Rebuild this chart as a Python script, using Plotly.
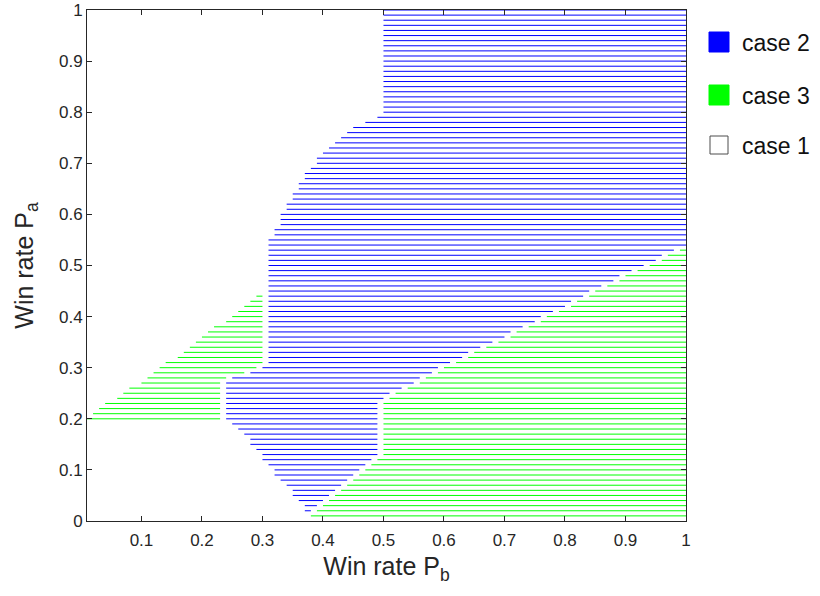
import plotly.graph_objects as go

# Row grid of the sweep: win rate P_a from 0.01 to 1.00
pa_rows = [round(0.01 * k, 2) for k in range(1, 101)]

# Case 2 (blue) span on each P_a row: first and last P_b in case 2
case2_from = [
    None, 0.37, 0.37, 0.36, 0.35, 0.35, 0.34, 0.33, 0.32, 0.32,   # 0.01-0.10
    0.31, 0.30, 0.30, 0.29, 0.28, 0.28, 0.27, 0.26, 0.25, 0.24,   # 0.11-0.20
    0.24, 0.24, 0.24, 0.24, 0.24, 0.24, 0.24, 0.25, 0.28, 0.30,   # 0.21-0.30
    0.31, 0.31, 0.31, 0.31, 0.31, 0.31, 0.31, 0.31, 0.31, 0.31,   # 0.31-0.40
    0.31, 0.31, 0.31, 0.31, 0.31, 0.31, 0.31, 0.31, 0.31, 0.31,   # 0.41-0.50
    0.31, 0.31, 0.31, 0.31, 0.31, 0.32, 0.32, 0.33, 0.33, 0.33,   # 0.51-0.60
    0.34, 0.34, 0.35, 0.35, 0.36, 0.36, 0.37, 0.37, 0.38, 0.39,   # 0.61-0.70
    0.39, 0.40, 0.41, 0.42, 0.43, 0.44, 0.45, 0.47, 0.49, 0.50,   # 0.71-0.80
    0.50, 0.50, 0.50, 0.50, 0.50, 0.50, 0.50, 0.50, 0.50, 0.50,   # 0.81-0.90
    0.50, 0.50, 0.50, 0.50, 0.50, 0.50, 0.50, 0.50, 0.50, 0.50,   # 0.91-1.00
]
case2_to = [
    None, 0.38, 0.39, 0.40, 0.41, 0.42, 0.43, 0.44, 0.45, 0.46,   # 0.01-0.10
    0.47, 0.48, 0.49, 0.49, 0.49, 0.49, 0.49, 0.49, 0.49, 0.49,   # 0.11-0.20
    0.49, 0.49, 0.49, 0.50, 0.51, 0.53, 0.55, 0.56, 0.58, 0.59,   # 0.21-0.30
    0.61, 0.63, 0.64, 0.66, 0.68, 0.70, 0.71, 0.73, 0.75, 0.76,   # 0.31-0.40
    0.78, 0.80, 0.81, 0.83, 0.84, 0.86, 0.88, 0.89, 0.91, 0.93,   # 0.41-0.50
    0.95, 0.96, 0.98, 1.00, 1.00, 1.00, 1.00, 1.00, 1.00, 1.00,   # 0.51-0.60
    1.00, 1.00, 1.00, 1.00, 1.00, 1.00, 1.00, 1.00, 1.00, 1.00,   # 0.61-0.70
    1.00, 1.00, 1.00, 1.00, 1.00, 1.00, 1.00, 1.00, 1.00, 1.00,   # 0.71-0.80
    1.00, 1.00, 1.00, 1.00, 1.00, 1.00, 1.00, 1.00, 1.00, 1.00,   # 0.81-0.90
    1.00, 1.00, 1.00, 1.00, 1.00, 1.00, 1.00, 1.00, 1.00, 1.00,   # 0.91-1.00
]

# Case 3 (green), lower-right region: rows P_a = 0.01 ... 0.53
case3_pa = pa_rows[:53]
case3_from = [
    0.38, 0.39, 0.40, 0.41, 0.42, 0.43, 0.44, 0.45, 0.46, 0.47,   # 0.01-0.10
    0.48, 0.49, 0.50, 0.50, 0.50, 0.50, 0.50, 0.50, 0.50, 0.50,   # 0.11-0.20
    0.50, 0.50, 0.50, 0.51, 0.52, 0.54, 0.56, 0.57, 0.59, 0.60,   # 0.21-0.30
    0.62, 0.64, 0.65, 0.67, 0.69, 0.71, 0.72, 0.74, 0.76, 0.77,   # 0.31-0.40
    0.79, 0.81, 0.82, 0.84, 0.85, 0.87, 0.89, 0.90, 0.92, 0.94,   # 0.41-0.50
    0.96, 0.97, 0.99,                                             # 0.51-0.53
]
case3_to = [1.00] * 53

# Case 3 (green), left wedge: rows P_a = 0.20 ... 0.44
case3_left_pa = pa_rows[19:44]
case3_left_from = [
    0.01, 0.02, 0.03, 0.04, 0.06, 0.07, 0.08, 0.10, 0.11, 0.12,   # 0.20-0.29
    0.13, 0.14, 0.16, 0.17, 0.18, 0.19, 0.20, 0.21, 0.22, 0.24,   # 0.30-0.39
    0.25, 0.26, 0.27, 0.28, 0.29,                                 # 0.40-0.44
]
case3_left_to = [
    0.23, 0.23, 0.23, 0.23, 0.23, 0.23, 0.23, 0.23, 0.24, 0.27,   # 0.20-0.29
    0.29, 0.30, 0.30, 0.30, 0.30, 0.30, 0.30, 0.30, 0.30, 0.30,   # 0.30-0.39
    0.30, 0.30, 0.30, 0.30, 0.30,                                 # 0.40-0.44
]

# Legend entries (label, fill, edge)
legend_labels = ["case 2", "case 3", "case 1"]
legend_fills = ["rgb(0,0,255)", "rgb(0,255,0)", "white"]
legend_edges = ["rgb(0,0,255)", "rgb(0,255,0)", "#4d4d4d"]

BLUE = "rgb(0,0,255)"
GREEN = "rgb(0,255,0)"
INK = "#262626"
FONT = "Liberation Sans, Arial, sans-serif"

# Plot-area geometry in pixels (used to place the legend boxes)
W, H = 820, 596
ML, MR, MT, MB = 87, 134, 10, 75
PW, PH = W - ML - MR, H - MT - MB


def px_to_paper(px, py):
    return (px - ML) / PW, (H - MB - py) / PH


def segments(rows, starts, ends):
    """Turn per-row spans into one polyline broken by gaps."""
    xs, ys = [], []
    for p, a, b in zip(rows, starts, ends):
        if a is None or b is None:
            continue
        xs += [a, b, None]
        ys += [p, p, None]
    return xs, ys


fig = go.Figure()

bx, by = segments(pa_rows, case2_from, case2_to)
fig.add_trace(go.Scatter(x=bx, y=by, mode="lines", line=dict(color=BLUE, width=1),
                         name="case 2", showlegend=False, hoverinfo="skip"))

gx1, gy1 = segments(case3_pa, case3_from, case3_to)
gx2, gy2 = segments(case3_left_pa, case3_left_from, case3_left_to)
fig.add_trace(go.Scatter(x=gx1 + gx2, y=gy1 + gy2, mode="lines",
                         line=dict(color=GREEN, width=1),
                         name="case 3", showlegend=False, hoverinfo="skip"))

# Legend drawn as boxes plus labels beside the axes
row_centres = [42, 95, 145]
for label, fill, edge, cy in zip(legend_labels, legend_fills, legend_edges, row_centres):
    half = 10 if fill != "white" else 9
    x0, y0 = px_to_paper(719 - half, cy + half)
    x1, y1 = px_to_paper(719 + half, cy - half)
    fig.add_shape(type="rect", xref="paper", yref="paper", x0=x0, y0=y0, x1=x1, y1=y1,
                  fillcolor=fill, line=dict(color=edge, width=1))
    tx, ty = px_to_paper(740, cy + 1)
    fig.add_annotation(xref="paper", yref="paper", x=tx, y=ty, text=label,
                       showarrow=False, xanchor="left", yanchor="middle",
                       font=dict(family=FONT, size=23, color="#111111"))

axis_common = dict(
    showline=True, linecolor=INK, linewidth=1, mirror="ticks",
    ticks="inside", ticklen=5, tickwidth=1, tickcolor=INK,
    showgrid=False, zeroline=False, automargin=False,
    tickfont=dict(family=FONT, size=17, color=INK),
)

fig.update_layout(
    width=W, height=H,
    margin=dict(l=ML, r=MR, t=MT, b=MB),
    paper_bgcolor="white", plot_bgcolor="white",
    font=dict(family=FONT, color=INK),
    showlegend=False,
    xaxis=dict(
        range=[0.01, 1], tickmode="array",
        tickvals=[0.1, 0.2, 0.3, 0.4, 0.5, 0.6, 0.7, 0.8, 0.9, 1.0],
        ticktext=["0.1", "0.2", "0.3", "0.4", "0.5", "0.6", "0.7", "0.8", "0.9", "1"],
        ticklabelstandoff=4,
        title=dict(text="Win rate P<sub>b</sub>", font=dict(family=FONT, size=25, color=INK),
                   standoff=8),
        **axis_common,
    ),
    yaxis=dict(
        range=[0, 1], tickmode="array",
        tickvals=[0, 0.1, 0.2, 0.3, 0.4, 0.5, 0.6, 0.7, 0.8, 0.9, 1.0],
        ticktext=["0", "0.1", "0.2", "0.3", "0.4", "0.5", "0.6", "0.7", "0.8", "0.9", "1"],
        title=dict(text="Win rate P<sub>a</sub>", font=dict(family=FONT, size=25, color=INK),
                   standoff=18),
        **axis_common,
    ),
)

fig.write_html("out.html")
